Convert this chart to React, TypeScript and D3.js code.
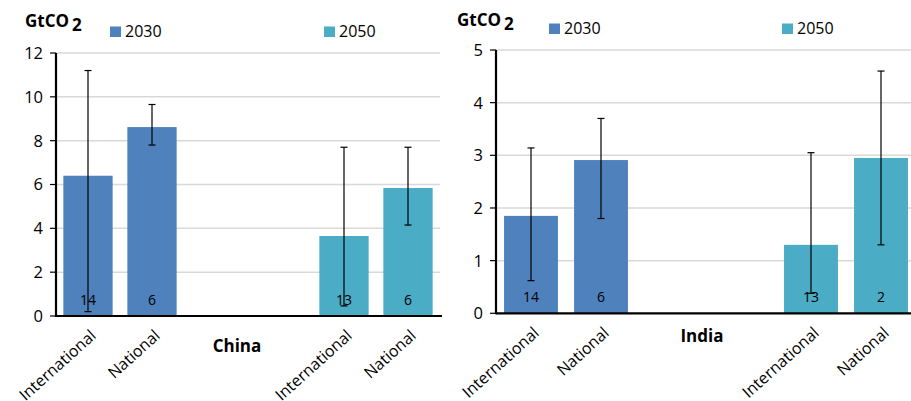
import React from "react";
import * as d3 from "d3";

const slots = ["s0", "s1", "s2", "s3", "s4", "s5"];
const barSlots = ["s0", "s1", "s4", "s5"];
const barLabels = ["International", "National", "International", "National"];
const barYears = ["2030", "2030", "2050", "2050"];
const legendYears = ["2030", "2050"];

const chinaValues = [6.4, 8.62, 3.65, 5.84];
const chinaErrLow = [0.2, 7.8, 0.46, 4.15];
const chinaErrHigh = [11.2, 9.65, 7.7, 7.7];
const chinaCounts = ["14", "6", "13", "6"];
const chinaTicks = [0, 2, 4, 6, 8, 10, 12];

const indiaValues = [1.85, 2.91, 1.3, 2.95];
const indiaErrLow = [0.62, 1.8, 0.38, 1.3];
const indiaErrHigh = [3.14, 3.7, 3.05, 4.6];
const indiaCounts = ["14", "6", "13", "2"];
const indiaTicks = [0, 1, 2, 3, 4, 5];

const colors: Record<string, string> = { "2030": "#4F81BD", "2050": "#4BACC6" };
const FONT = "'Open Sans', 'Liberation Sans', sans-serif";

type PanelProps = {
  x0: number; x1: number; yTop: number; yBot: number; yMax: number;
  values: number[]; lo: number[]; hi: number[]; counts: string[]; ticks: number[];
  country: string; countryX: number; countryY: number;
  unitX: number; unitY: number;
  legX: number[]; legY: number;
};

function Panel(p: PanelProps) {
  const x = d3.scaleBand<string>().domain(slots).range([p.x0, p.x1]).paddingInner(0.23).paddingOuter(0.115);
  const y = d3.scaleLinear().domain([0, p.yMax]).range([p.yBot, p.yTop]);
  const bw = x.bandwidth();
  return (
    <g>
      {p.ticks.filter((t) => t > 0).map((t) => (
        <line key={"g" + t} x1={p.x0} x2={p.x1} y1={y(t)} y2={y(t)} stroke="#d9d9d9" strokeWidth={1.5} />
      ))}
      {barSlots.map((s, i) => (
        <rect key={"b" + i} x={x(s)!} width={bw} y={y(p.values[i])} height={p.yBot - y(p.values[i])} fill={colors[barYears[i]]} />
      ))}
      {barSlots.map((s, i) => {
        const cx = x(s)! + bw / 2;
        return (
          <g key={"e" + i} stroke="#000" strokeWidth={1.2}>
            <line x1={cx} x2={cx} y1={y(p.lo[i])} y2={y(p.hi[i])} />
            <line x1={cx - 3.5} x2={cx + 3.5} y1={y(p.lo[i])} y2={y(p.lo[i])} />
            <line x1={cx - 3.5} x2={cx + 3.5} y1={y(p.hi[i])} y2={y(p.hi[i])} />
          </g>
        );
      })}
      {barSlots.map((s, i) => (
        <text key={"c" + i} x={x(s)! + bw / 2} y={p.yBot - 11} textAnchor="middle" fontSize={14} fontFamily={FONT} fill="#000">
          {p.counts[i]}
        </text>
      ))}
      <line x1={p.x0} x2={p.x1 + 2} y1={p.yBot} y2={p.yBot} stroke="#000" strokeWidth={2.2} />
      <line x1={p.x0} x2={p.x0} y1={p.yTop} y2={p.yBot + 1} stroke="#000" strokeWidth={2.2} />
      {p.ticks.map((t) => (
        <g key={"t" + t}>
          <line x1={p.x0 - 6} x2={p.x0} y1={y(t)} y2={y(t)} stroke="#000" strokeWidth={1.2} />
          <text x={p.x0 - 13} y={y(t)} dy="0.36em" textAnchor="end" fontSize={16.5} fontFamily={FONT} fill="#000">{t}</text>
        </g>
      ))}
      {barSlots.map((s, i) => {
        const cx = x(s)! + bw / 2;
        return (
          <text key={"l" + i} transform={`translate(${cx + 9},${p.yBot + 21}) rotate(-42)`} textAnchor="end" fontSize={16} fontFamily={FONT} fill="#000">
            {barLabels[i]}
          </text>
        );
      })}
      <text x={p.countryX} y={p.countryY} textAnchor="middle" fontSize={17} fontWeight="bold" fontFamily={FONT} fill="#000">{p.country}</text>
      <text x={p.unitX} y={p.unitY} fontSize={17} fontWeight="bold" fontFamily={FONT} fill="#000">
        GtCO<tspan dx={3} dy={4}>2</tspan>
      </text>
      {legendYears.map((yr, i) => (
        <g key={"lg" + yr}>
          <rect x={p.legX[i]} y={p.legY - 10.5} width={11} height={10.5} fill={colors[yr]} />
          <text x={p.legX[i] + 15} y={p.legY} fontSize={16} fontFamily={FONT} fill="#000">{yr}</text>
        </g>
      ))}
    </g>
  );
}

export default function App() {
  return (
    <svg width={911} height={401} style={{ position: "absolute", left: 0, top: 0, background: "#fff" }}>
      <rect width={911} height={401} fill="#fff" />
      <Panel x0={56} x1={440} yTop={53} yBot={316} yMax={12}
        values={chinaValues} lo={chinaErrLow} hi={chinaErrHigh} counts={chinaCounts} ticks={chinaTicks}
        country="China" countryX={237} countryY={352} unitX={25} unitY={27} legX={[110, 324]} legY={37} />
      <Panel x0={496} x1={916} yTop={50} yBot={313.3} yMax={5}
        values={indiaValues} lo={indiaErrLow} hi={indiaErrHigh} counts={indiaCounts} ticks={indiaTicks}
        country="India" countryX={702} countryY={342} unitX={457} unitY={26} legX={[549, 782]} legY={34} />
    </svg>
  );
}
